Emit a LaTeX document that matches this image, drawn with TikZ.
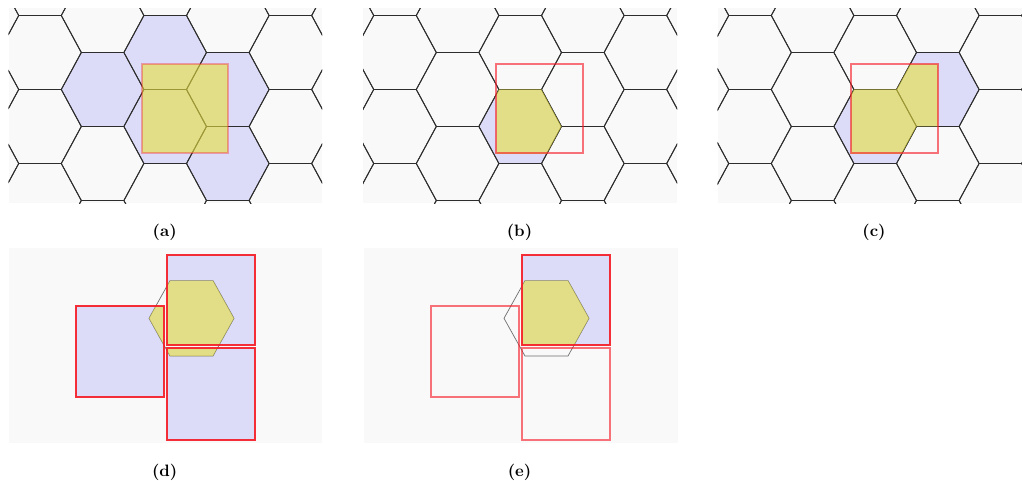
\documentclass[tikz,border=0pt]{standalone}
\begin{document}
\definecolor{panelbg}{RGB}{249,249,249}
\definecolor{cellblue}{RGB}{220,220,249}
\definecolor{hityellow}{RGB}{230,222,60}
\definecolor{gridline}{RGB}{45,45,45}
\definecolor{boxred}{RGB}{245,25,35}
\definecolor{hexgray}{RGB}{110,110,110}
% hexagon with centre (#1,#2), outer half-width #3, half top edge #4, half height #5
\newcommand\hexpath[5]{(#1-#3,#2) -- (#1-#4,#2-#5) -- (#1+#4,#2-#5) -- (#1+#3,#2) -- (#1+#4,#2+#5) -- (#1-#4,#2+#5) -- cycle}
\newcommand\cell[2]{\hexpath{#1}{#2}{41.3}{21.3}{37}}
\newcommand\bighex{\hexpath{191.5}{78.3}{42.5}{21.5}{37.7}}
% tiling of flat-topped hexagons
\newcommand\hexgrid{%
  \foreach \k in {0,...,6}{%
    \foreach \j in {-1,...,3}{%
      \pgfmathsetmacro\cx{40+62.6*(\k-1)}%
      \pgfmathsetmacro\cy{52.5+74*\j-37*(1-mod(\k,2))}%
      \draw[gridline,line width=0.9pt,line join=round] \cell{\cx}{\cy};
    }%
  }%
}
\tikzset{
  yellowfill/.style={fill=hityellow,fill opacity=0.6},
  captext/.style={font=\bfseries,scale=1.65},
}
\begin{tikzpicture}[x=1pt,y=-1pt]
\useasboundingbox (0,0) rectangle (1022,481);
% ---------- (a) ----------
\begin{scope}
  \fill[panelbg] (8.5,8.3) rectangle (322,203.3);
  \begin{scope}
    \clip (8.5,8.3) rectangle (322,203.3);
    \fill[cellblue] \cell{102.6}{89.5} \cell{165.2}{52.5} \cell{165.2}{126.5} \cell{227.8}{89.5} \cell{227.8}{163.5};
    \hexgrid
  \end{scope}
  \fill[yellowfill] (141.6,64.3) rectangle (228.3,153.3);
  \draw[boxred,draw opacity=0.35,line width=1.8pt] (141.6,64.3) rectangle (228.3,153.3);
\end{scope}
% ---------- (b) ----------
\begin{scope}[shift={(355,0)}]
  \fill[panelbg] (8,8.3) rectangle (322,203.3);
  \begin{scope}
    \clip (8,8.3) rectangle (322,203.3);
    \fill[cellblue] \cell{165.2}{126.5};
    \hexgrid
  \end{scope}
  \begin{scope}
    \clip (141.3,64.3) rectangle (228.3,153.3);
    \fill[yellowfill] \cell{165.2}{126.5};
  \end{scope}
  \draw[boxred,draw opacity=0.6,line width=1.8pt] (141.3,64.3) rectangle (228.3,153.3);
\end{scope}
% ---------- (c) ----------
\begin{scope}[shift={(710,0)}]
  \fill[panelbg] (7.5,8.3) rectangle (312,203.3);
  \begin{scope}
    \clip (7.5,8.3) rectangle (312,203.3);
    \fill[cellblue] \cell{165.2}{126.5} \cell{227.8}{89.5};
    \hexgrid
  \end{scope}
  \begin{scope}
    \clip (141,64.3) rectangle (228,153.3);
    \fill[yellowfill] \cell{165.2}{126.5} \cell{227.8}{89.5};
  \end{scope}
  \draw[boxred,draw opacity=0.6,line width=1.8pt] (141,64.3) rectangle (228,153.3);
\end{scope}
% ---------- (d) ----------
\begin{scope}[shift={(0,240)}]
  \fill[panelbg] (8.5,8.3) rectangle (322,202.7);
  \fill[cellblue] (167,14.7) rectangle (255.3,104.7)
                  (76,66) rectangle (164,156.7)
                  (167,108) rectangle (255.3,200);
  \draw[hexgray,line width=0.7pt] \bighex;
  \foreach \sq in {{(167,14.7) rectangle (255.3,104.7)},{(76,66) rectangle (164,156.7)},{(167,108) rectangle (255.3,200)}}{
    \begin{scope}
      \clip \sq;
      \fill[yellowfill] \bighex;
    \end{scope}
  }
  \draw[boxred,draw opacity=0.9,line width=2pt] (167,14.7) rectangle (255.3,104.7)
                  (76,66) rectangle (164,156.7)
                  (167,108) rectangle (255.3,200);
\end{scope}
% ---------- (e) ----------
\begin{scope}[shift={(355,240)}]
  \fill[panelbg] (9,8.3) rectangle (323,202.7);
  \fill[cellblue] (167,14.7) rectangle (255.3,104.7);
  \draw[hexgray,line width=0.7pt] \bighex;
  \begin{scope}
    \clip (167,14.7) rectangle (255.3,104.7);
    \fill[yellowfill] \bighex;
  \end{scope}
  \draw[boxred,draw opacity=0.6,line width=2pt] (76,66) rectangle (164,156.7)
                  (167,108) rectangle (255.3,200);
  \draw[boxred,draw opacity=0.9,line width=2pt] (167,14.7) rectangle (255.3,104.7);
\end{scope}
% ---------- captions ----------
\node[captext] (cap-a) at (164.7,232) {(a)};
\node[captext] (cap-b) at (519.5,232) {(b)};
\node[captext] (cap-c) at (874,232) {(c)};
\node[captext] (cap-d) at (164.7,472) {(d)};
\node[captext] (cap-e) at (519.5,472) {(e)};
\end{tikzpicture}
\end{document}
